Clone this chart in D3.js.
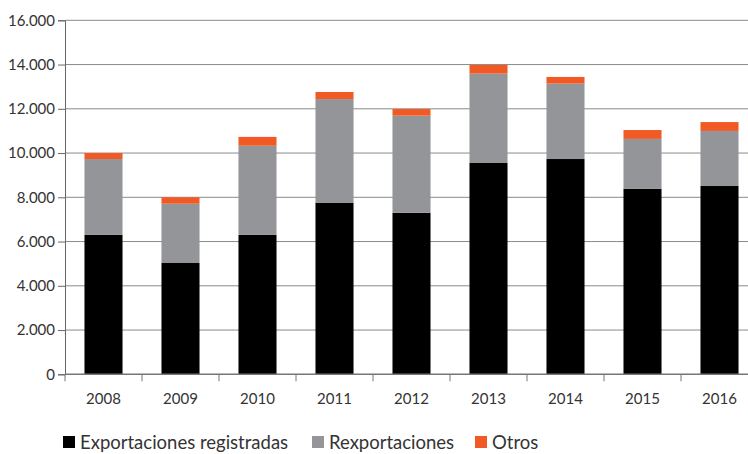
<!DOCTYPE html>
<html>
<head>
<meta charset="utf-8">
<script src="https://cdn.jsdelivr.net/npm/d3@7"></script>
<style>
  body { margin: 0; background: #fff; }
  text { font-family: Lato, "Open Sans", sans-serif; fill: #333; }
</style>
</head>
<body>
<script>
// Years and the three stacked series (millions)
const years = ["2008", "2009", "2010", "2011", "2012", "2013", "2014", "2015", "2016"];
const exportaciones = [6300, 5030, 6300, 7760, 7300, 9550, 9730, 8380, 8510];
const reexportaciones = [3430, 2680, 4030, 4680, 4390, 4040, 3410, 2260, 2490];
const otros = [270, 290, 400, 320, 300, 390, 300, 400, 400];
const seriesNames = ["Exportaciones registradas", "Rexportaciones", "Otros"];
const yTicks = [0, 2000, 4000, 6000, 8000, 10000, 12000, 14000, 16000];

const colors = ["#000000", "#939598", "#f15a24"];

const width = 748, height = 454;
const svg = d3.select("body").append("svg")
    .attr("width", width)
    .attr("height", height);

const x = d3.scaleBand()
    .domain(years)
    .range([65, 758])
    .paddingInner(0.506)
    .paddingOuter(0.253);

const y = d3.scaleLinear()
    .domain([0, 16000])
    .range([374.3, 20.3]);

// Table for the stack layout
const table = years.map((yr, i) => ({
    year: yr,
    [seriesNames[0]]: exportaciones[i],
    [seriesNames[1]]: reexportaciones[i],
    [seriesNames[2]]: otros[i]
}));
const stacked = d3.stack().keys(seriesNames)(table);

// Gridlines
svg.append("g")
    .selectAll("line")
    .data(yTicks.slice(1))
    .join("line")
    .attr("x1", 65)
    .attr("x2", 748)
    .attr("y1", d => y(d))
    .attr("y2", d => y(d))
    .attr("stroke", "#8a8a8a")
    .attr("stroke-width", 1);

// Y axis
const yAxis = svg.append("g")
    .attr("transform", "translate(65,0)")
    .call(d3.axisLeft(y).tickValues(yTicks).tickSize(7).tickPadding(3)
        .tickFormat(d => d3.format(",")(d).replace(/,/g, ".")));
yAxis.select(".domain").attr("stroke", "#666");
yAxis.selectAll(".tick line").attr("stroke", "#666");
yAxis.selectAll("text").attr("font-size", 15).attr("fill", "#333")
    .attr("font-family", "Lato, sans-serif");

// Bars
svg.append("g")
    .selectAll("g")
    .data(stacked)
    .join("g")
    .attr("fill", (d, i) => colors[i])
    .selectAll("rect")
    .data(d => d)
    .join("rect")
    .attr("x", d => x(d.data.year))
    .attr("width", x.bandwidth())
    .attr("y", d => y(d[1]))
    .attr("height", d => y(d[0]) - y(d[1]));

// X axis baseline and ticks between bars
const gap = (x.step() - x.bandwidth()) / 2;
svg.append("line")
    .attr("x1", 65).attr("x2", 748)
    .attr("y1", y(0)).attr("y2", y(0))
    .attr("stroke", "#777").attr("stroke-width", 1.5);
svg.append("g")
    .selectAll("line")
    .data(years)
    .join("line")
    .attr("x1", d => x(d) - gap)
    .attr("x2", d => x(d) - gap)
    .attr("y1", y(0))
    .attr("y2", y(0) + 7)
    .attr("stroke", "#777");
svg.append("g")
    .selectAll("text")
    .data(years)
    .join("text")
    .attr("x", d => x(d) + x.bandwidth() / 2)
    .attr("y", 404)
    .attr("text-anchor", "middle")
    .attr("font-size", 15)
    .text(d => d);

// Legend
const legendX = [63, 312, 475];
const legend = svg.append("g")
    .selectAll("g")
    .data(seriesNames)
    .join("g")
    .attr("transform", (d, i) => `translate(${legendX[i]},436)`);
legend.append("rect")
    .attr("width", 12).attr("height", 12)
    .attr("fill", (d, i) => colors[i]);
legend.append("text")
    .attr("x", 17)
    .attr("y", 12.5)
    .attr("font-size", 18.5)
    .attr("fill", "#444")
    .text(d => d);
</script>
</body>
</html>
